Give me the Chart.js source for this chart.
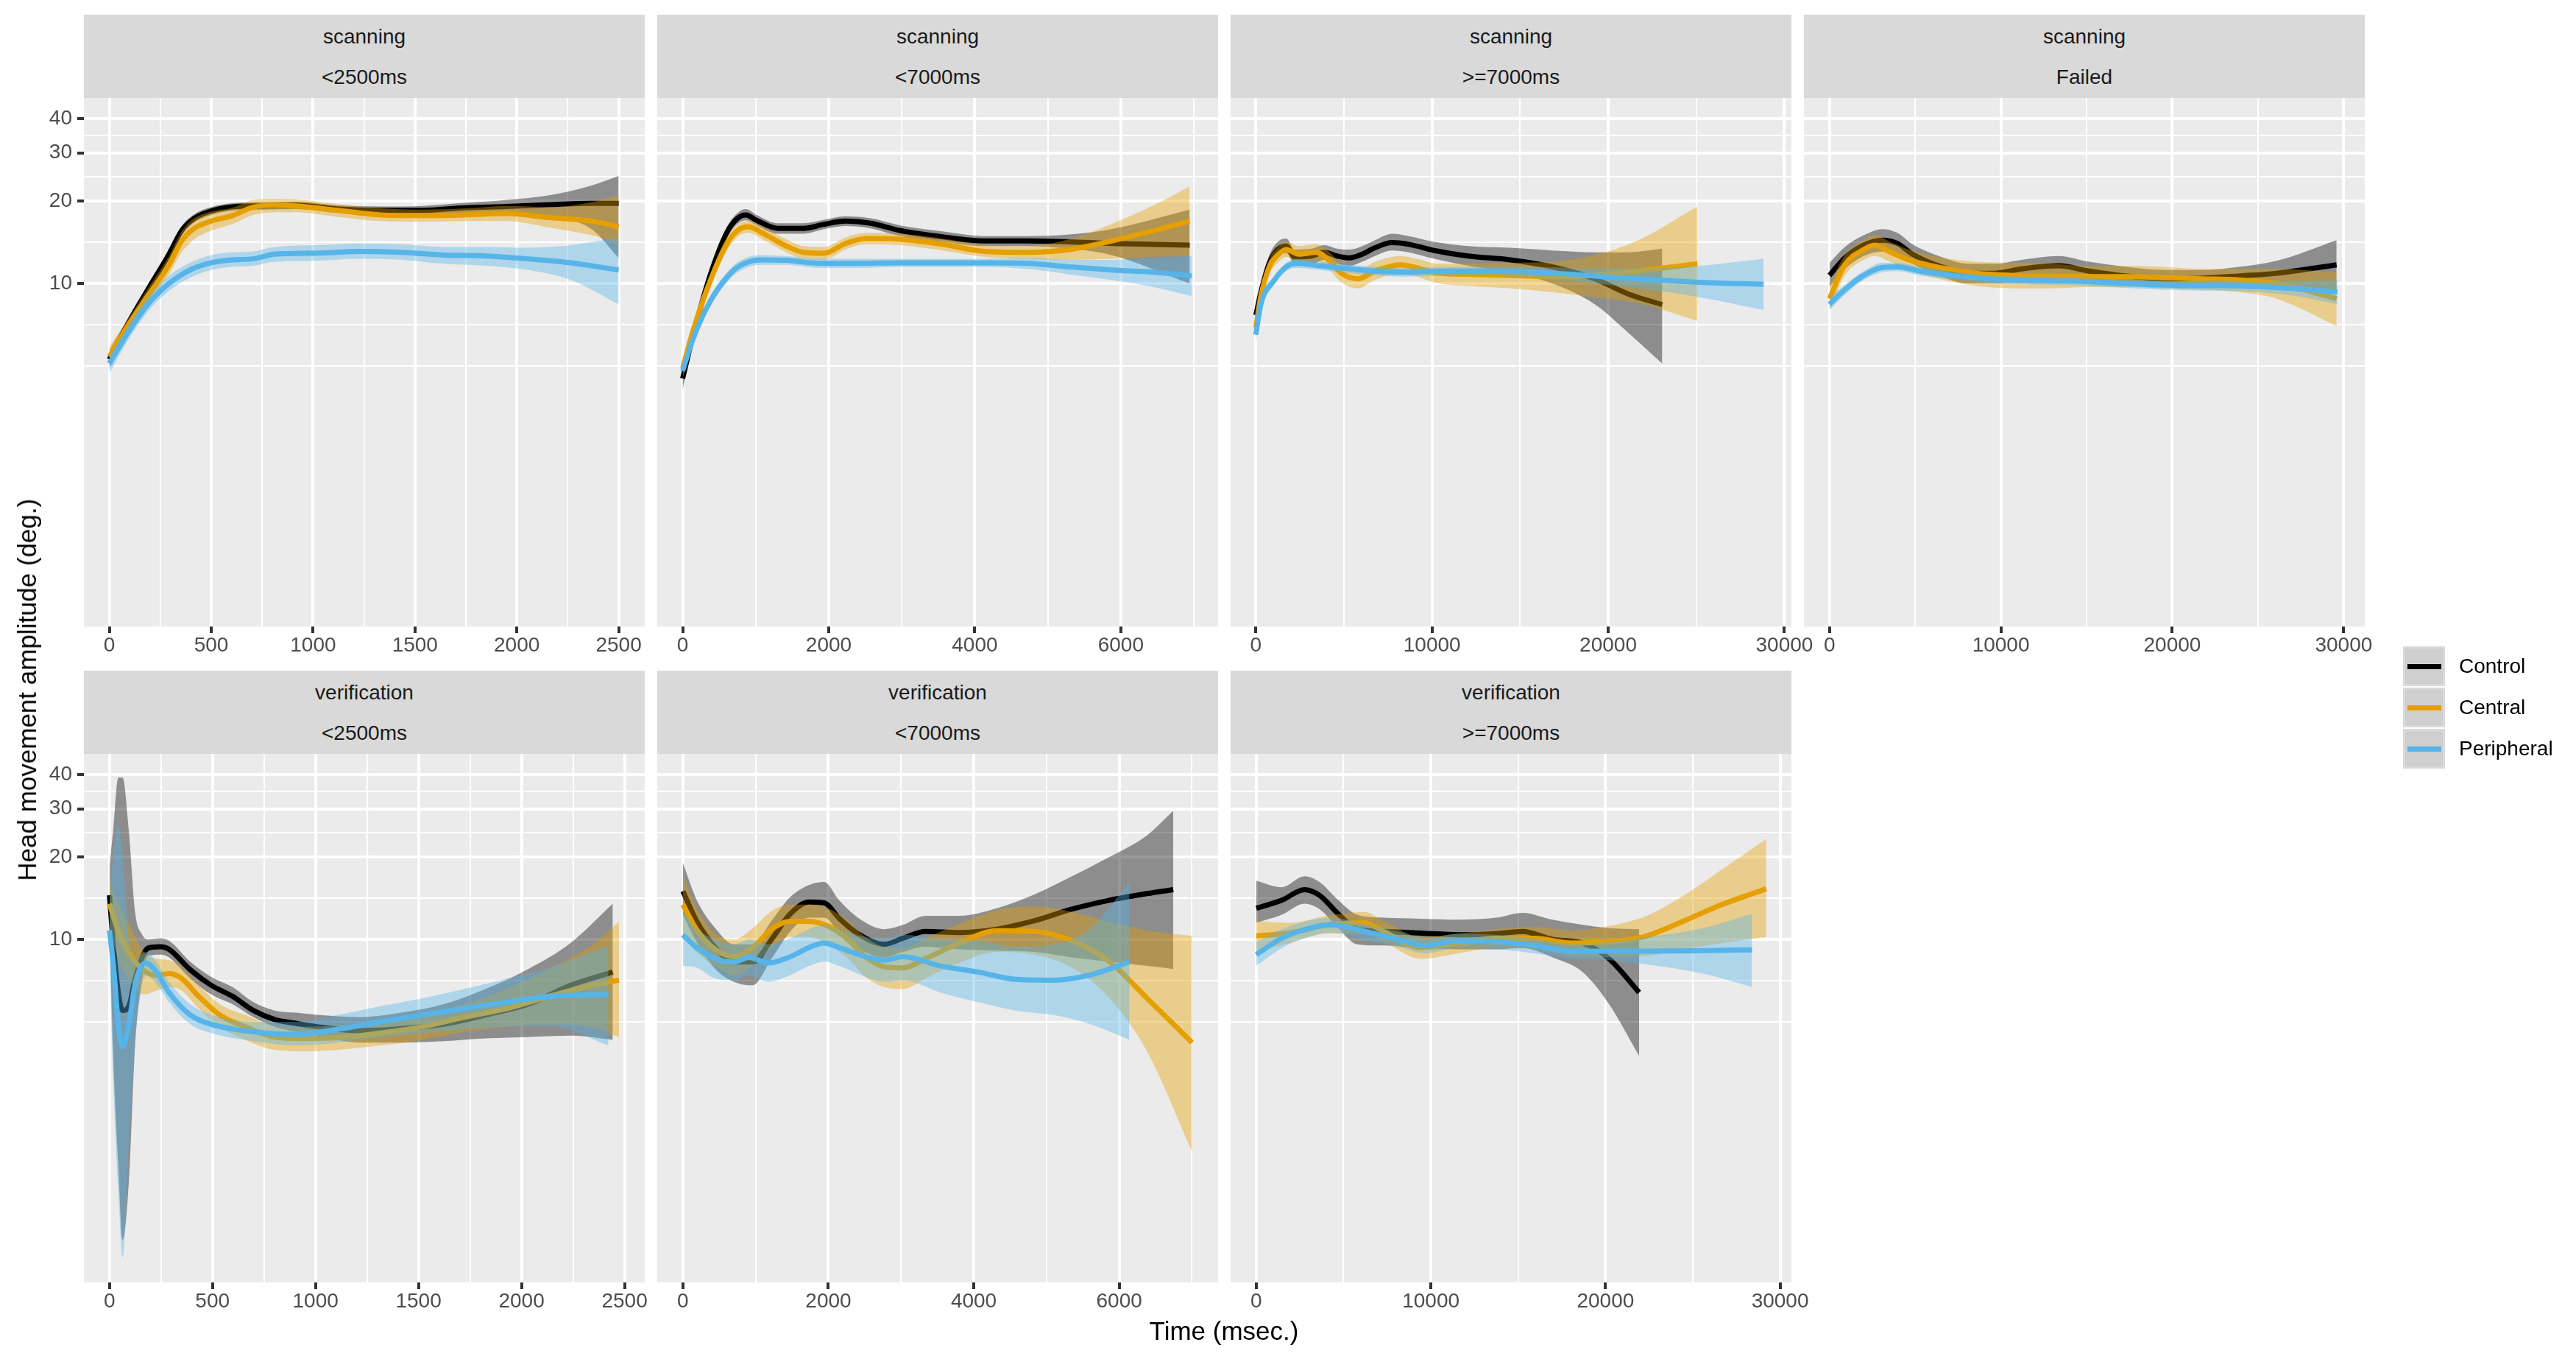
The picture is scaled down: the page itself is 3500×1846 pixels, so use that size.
<!DOCTYPE html>
<html><head><meta charset="utf-8">
<script src="https://cdn.jsdelivr.net/npm/chart.js@4.4.1/dist/chart.umd.min.js"></script>
<style>
html,body{margin:0;padding:0;background:#fff;}
#root{position:relative;width:3500px;height:1846px;overflow:hidden;background:#fff;font-family:"Liberation Sans",Arial,Helvetica,sans-serif;}
.strip{position:absolute;background:#D9D9D9;color:#1A1A1A;font-size:28px;}
.strip div{position:absolute;left:0;right:0;text-align:center;line-height:28px;white-space:nowrap;}
.cw{position:absolute;}
.lab{position:absolute;white-space:nowrap;color:#000;}
</style></head>
<body><div id="root"></div>
<script>
// ---------------- data ----------------
const GROUPS = ['Control','Central','Peripheral'];
const Y_LABELS = [10,20,30,40];
const Y_MINOR = [5,7.071,14.142,24.495,34.641];
const X_MAJ_2500 = [0,500,1000,1500,2000,2500];
const X_MIN_2500 = [250,750,1250,1750,2250];
const X_MAJ_7000 = [0,2000,4000,6000];
const X_MIN_7000 = [1000,3000,5000,7000];
const X_MAJ_30000 = [0,10000,20000,30000];
const X_MIN_30000 = [5000,15000,25000];

// scanning <2500ms
const U1_t_ctrl = [0,85,189,293,355,417,500,624,749,915,1122,1330,1537,1745,1952,2160,2367,2500];
const U1_ctrl    = [5.28,7.0,9.5,12.8,15.6,17.3,18.4,19.1,19.2,19.3,18.7,18.5,18.5,18.9,19.1,19.4,19.6,19.6];
const U1_ctrl_lo = [4.9,6.7,9.1,12.3,15.0,16.7,17.8,18.5,18.6,18.7,18.1,17.9,17.9,18.1,18.0,17.6,15.8,12.4];
const U1_ctrl_hi = [5.7,7.3,9.9,13.3,16.2,17.9,19.0,19.7,19.8,19.9,19.3,19.1,19.2,19.7,20.2,21.0,22.8,24.7];
const U1_t_cen = [0,85,189,293,355,417,500,604,707,811,915,1122,1330,1537,1745,1952,2160,2367,2500];
const U1_cen    = [5.4,6.9,9.0,11.7,14.3,15.9,16.9,17.7,19.0,19.3,19.2,18.5,17.8,17.7,17.8,18.0,17.4,16.9,16.1];
const U1_cen_lo = [5.0,6.5,8.4,10.8,13.0,14.5,15.6,16.5,17.8,18.2,18.2,17.5,16.9,16.8,16.9,16.9,16.0,15.0,14.0];
const U1_cen_hi = [5.9,7.3,9.6,12.6,15.5,17.3,18.3,18.9,20.2,20.4,20.3,19.5,18.8,18.6,18.8,19.2,19.0,19.8,21.0];
const U1_t_per = [0,85,189,293,396,500,604,707,811,1019,1226,1434,1641,1849,2056,2264,2500];
const U1_per    = [5.1,6.5,8.4,10.0,11.2,11.9,12.2,12.3,12.8,12.9,13.1,13.0,12.7,12.6,12.3,11.9,11.2];
const U1_per_lo = [4.7,6.1,7.9,9.4,10.5,11.2,11.5,11.6,12.0,12.1,12.3,12.2,11.8,11.6,11.2,10.3,8.4];
const U1_per_hi = [5.4,6.9,9.0,10.7,11.9,12.7,13.0,13.1,13.6,13.8,14.0,13.9,13.6,13.6,13.5,13.8,14.7];

// scanning <7000ms
const U2_t_ctrl = [0,145,376,608,752,868,1013,1302,1649,1938,2228,2575,2980,3558,4137,4716,5294,5873,6943];
const U2_ctrl    = [4.5,6.5,10.7,15.4,17.3,17.8,17.0,15.9,15.9,16.45,16.9,16.6,15.6,14.8,14.3,14.3,14.2,14.0,13.8];
const U2_ctrl_lo = [4.1,6.1,10.2,14.7,16.5,17.0,16.3,15.2,15.2,15.8,16.2,15.9,14.9,14.2,13.7,13.7,13.4,12.7,10.0];
const U2_ctrl_hi = [4.9,6.9,11.2,16.1,18.1,18.7,17.8,16.6,16.6,17.1,17.6,17.3,16.3,15.5,14.9,14.9,15.1,15.8,18.6];
const U2_t_cen = [0,145,376,608,752,897,1128,1418,1649,1938,2228,2517,2980,3558,4137,4716,5294,5873,6451,6943];
const U2_cen    = [4.9,6.76,10.2,14.0,15.6,16.1,15.1,13.7,13.0,12.9,14.0,14.6,14.5,13.9,13.1,13.0,13.3,14.3,15.6,16.9];
const U2_cen_lo = [4.6,6.3,9.6,13.2,14.8,15.3,14.3,13.0,12.3,12.2,13.3,13.9,13.8,13.2,12.5,12.3,12.2,12.3,12.5,12.6];
const U2_cen_hi = [5.3,7.2,10.8,14.8,16.4,16.9,15.9,14.5,13.7,13.6,14.7,15.3,15.2,14.6,13.8,13.7,14.5,16.5,19.3,22.6];
const U2_t_per = [0,145,376,608,781,1070,1418,1880,2401,2980,3558,4137,4716,5294,5873,6451,6972];
const U2_per    = [4.8,6.3,8.6,10.55,11.6,12.2,12.15,11.85,11.85,11.9,11.9,11.9,11.85,11.5,11.2,11.0,10.65];
const U2_per_lo = [4.5,6.0,8.2,10.1,11.1,11.7,11.7,11.4,11.4,11.5,11.5,11.5,11.3,10.8,10.3,9.7,9.0];
const U2_per_hi = [5.1,6.6,9.0,11.0,12.1,12.7,12.6,12.3,12.3,12.3,12.3,12.3,12.4,12.2,12.2,12.4,12.6];

// scanning >=7000ms
const U3_t_ctrl = [0,288,767,1247,1727,2206,3165,3885,4604,5323,6043,6762,7721,8680,10120,12038,14436,16834,19232,21150,23068];
const U3_ctrl    = [7.66,9.3,11.9,13.3,13.7,12.5,12.6,13.0,12.6,12.4,12.8,13.5,14.1,13.9,13.2,12.6,12.2,11.5,10.4,9.15,8.37];
const U3_ctrl_lo = [7.0,8.8,11.2,12.5,12.9,11.8,11.8,12.2,11.8,11.6,12.0,12.6,13.2,13.0,12.3,11.6,11.0,10.0,8.4,6.6,5.1];
const U3_ctrl_hi = [8.4,9.9,12.7,14.2,14.6,13.3,13.4,13.8,13.4,13.3,13.7,14.4,15.2,14.9,14.2,13.7,13.5,13.2,13.0,13.0,13.4];
const U3_t_cen = [0,288,767,1247,1727,2446,3405,4125,4844,5803,6762,8201,9160,10359,12038,14436,16834,19232,21630,25059];
const U3_cen    = [6.9,9.0,11.5,12.7,13.3,12.8,13.0,12.2,10.9,10.4,11.1,11.7,11.4,10.9,10.8,10.7,10.6,10.7,11.1,11.8];
const U3_cen_lo = [6.3,8.4,10.8,11.9,12.5,12.0,12.1,11.3,10.1,9.6,10.3,10.9,10.6,10.0,9.8,9.6,9.3,8.9,8.5,7.3];
const U3_cen_hi = [7.6,9.7,12.3,13.6,14.2,13.7,13.9,13.1,11.8,11.2,12.0,12.6,12.3,11.8,11.8,11.9,12.0,12.7,14.3,19.1];
const U3_t_per = [0,288,1007,1727,2326,3645,6043,8441,10839,13237,15635,18033,20431,22830,25227,28824];
const U3_per    = [6.5,8.4,10.2,11.5,11.85,11.6,11.2,11.0,11.1,11.1,11.0,10.8,10.5,10.3,10.1,9.93];
const U3_per_lo = [6.0,8.0,9.8,11.1,11.4,11.2,10.8,10.6,10.7,10.7,10.5,10.2,9.8,9.4,8.9,8.0];
const U3_per_hi = [7.0,8.9,10.6,11.9,12.3,12.0,11.6,11.4,11.5,11.5,11.5,11.4,11.3,11.4,11.6,12.3];

// scanning Failed
const U4_t_ctrl = [0,898,1993,3088,3964,4840,6373,8125,9658,11191,13381,15133,17323,19513,21703,23893,26083,29587];
const U4_ctrl    = [10.7,12.4,13.8,14.4,14.0,12.8,11.6,10.9,10.9,11.3,11.6,11.1,10.65,10.4,10.45,10.65,10.9,11.7];
const U4_ctrl_lo = [9.7,11.3,12.6,13.1,12.8,11.8,10.7,10.0,10.0,10.4,10.7,10.3,9.9,9.7,9.8,9.9,9.8,9.4];
const U4_ctrl_hi = [11.9,13.6,15.0,15.8,15.3,13.9,12.6,11.8,11.8,12.2,12.6,12.0,11.5,11.2,11.2,11.5,12.1,14.4];
const U4_t_cen = [0,898,1993,2650,3526,4621,6373,8563,10753,12943,15133,17323,19513,21703,23893,26083,29587];
const U4_cen    = [8.8,11.7,13.3,13.8,13.05,12.2,11.45,10.9,10.7,10.6,10.6,10.6,10.5,10.4,10.3,10.0,8.8];
const U4_cen_lo = [7.9,10.7,12.2,12.6,12.0,11.2,10.4,9.8,9.6,9.6,9.7,9.7,9.6,9.5,9.3,8.8,7.0];
const U4_cen_hi = [9.8,12.7,14.4,15.0,14.2,13.3,12.5,12.0,11.9,11.8,11.6,11.6,11.5,11.3,11.3,11.3,11.0];
const U4_t_per = [0,898,1993,3088,3964,5278,7468,9658,11848,14038,16228,18418,20608,22798,24988,27178,29631];
const U4_per    = [8.4,9.5,10.7,11.45,11.5,11.1,10.65,10.35,10.25,10.2,10.07,9.93,9.82,9.82,9.75,9.58,9.31];
const U4_per_lo = [8.0,9.1,10.3,11.0,11.1,10.7,10.3,10.0,9.9,9.85,9.7,9.55,9.45,9.4,9.3,9.0,8.4];
const U4_per_hi = [8.9,9.9,11.1,11.9,11.9,11.5,11.0,10.7,10.6,10.55,10.4,10.3,10.2,10.25,10.2,10.2,10.3];

// verification <2500ms
const L1_t_ctrl = [0,18,43,64,94,125,156,187,248,289,392,494,597,699,802,904,1007,1212,1417,1622,1827,2033,2238,2443];
const L1_ctrl    = [14.5,9.7,6.4,5.5,5.7,7.2,8.5,9.3,9.4,9.2,7.75,6.8,6.2,5.5,5.1,4.94,4.8,4.64,4.72,4.9,5.3,5.8,6.8,7.6];
const L1_ctrl_lo = [11.5,3.8,1.5,0.8,1.3,4.2,6.9,8.7,8.8,8.6,7.2,6.3,5.8,5.2,4.8,4.6,4.45,4.2,4.2,4.25,4.35,4.4,4.45,4.3];
const L1_ctrl_hi = [18.5,25,39,39,25,12.5,10.5,10.0,10.1,9.9,8.3,7.3,6.7,5.9,5.5,5.4,5.3,5.2,5.4,5.8,6.6,7.8,9.7,13.5];
const L1_t_cen = [0,43,105,166,228,289,351,433,535,658,802,945,1110,1315,1520,1725,1930,2135,2340,2473];
const L1_cen    = [13.5,10.7,8.7,7.7,7.4,7.5,7.2,6.2,5.3,4.8,4.4,4.35,4.38,4.55,4.8,5.2,5.6,6.2,6.8,7.1];
const L1_cen_lo = [11.0,8.5,7.0,6.3,6.5,6.7,6.5,5.6,4.8,4.3,3.95,3.9,3.95,4.1,4.3,4.6,4.8,4.9,4.8,4.4];
const L1_cen_hi = [16.0,13.5,11.0,9.0,8.5,8.4,7.9,6.8,5.8,5.3,4.85,4.8,4.85,5.0,5.3,5.8,6.6,7.8,9.5,11.6];
const L1_t_per = [0,23,43,64,94,125,176,228,289,392,494,699,904,1110,1315,1520,1725,1930,2135,2422];
const L1_per    = [10.8,7.5,4.9,4.06,4.9,6.9,8.2,7.6,6.4,5.3,4.9,4.6,4.5,4.7,5.0,5.3,5.6,5.9,6.2,6.3];
const L1_per_lo = [8.5,2.5,1.2,0.69,1.75,4.2,7.4,6.9,5.9,4.9,4.55,4.25,4.1,4.2,4.4,4.55,4.7,4.8,4.85,4.1];
const L1_per_hi = [13.5,22,26,20,10,8.5,9.0,8.3,7.0,5.8,5.3,5.0,5.0,5.3,5.7,6.1,6.6,7.2,7.9,9.5];

// verification <7000ms
const L2_t_ctrl = [0,186,444,702,960,1219,1477,1735,1942,2148,2406,2768,3026,3336,3801,4317,4834,5350,5866,6383,6744];
const L2_ctrl    = [15.0,11.7,9.34,8.27,8.27,10.0,12.4,13.7,13.6,11.95,10.5,9.6,10.1,10.7,10.6,10.9,11.7,12.9,13.9,14.7,15.2];
const L2_ctrl_lo = [12.3,9.8,7.8,7.0,6.8,8.5,10.7,12.0,12.0,10.6,9.3,8.6,9.0,9.4,9.2,9.1,9.0,8.6,8.3,8.0,7.8];
const L2_ctrl_hi = [19.0,14.0,11.0,9.6,9.6,11.7,14.3,15.8,16.2,13.9,12.0,10.9,11.3,12.2,12.2,13.0,14.6,17.0,20.0,24.0,29.5];
const L2_t_cen = [0,186,444,702,960,1219,1477,1735,1993,2252,2510,2768,3026,3336,3801,4317,4834,5350,5866,6383,7002];
const L2_cen    = [13.4,10.9,9.2,8.65,9.34,10.9,11.65,11.65,11.2,10.1,8.65,7.95,7.87,8.5,9.7,10.75,10.7,9.9,8.3,6.1,4.2];
const L2_cen_lo = [10.4,9.0,8.0,7.4,8.0,9.3,10.2,10.2,9.6,8.6,7.3,6.7,6.6,7.2,8.2,9.0,8.8,7.9,6.1,3.9,1.68];
const L2_cen_hi = [17.0,13.0,10.5,10.0,11.0,12.7,13.4,13.4,13.0,11.8,10.2,9.4,9.3,10.1,11.4,12.8,13.2,12.6,11.6,10.8,10.3];
const L2_t_per = [0,186,444,702,909,1167,1477,1735,1942,2148,2510,2768,3026,3543,4059,4575,5092,5608,6140];
const L2_per    = [10.4,9.34,8.5,8.27,8.6,8.2,8.65,9.34,9.7,9.34,8.65,8.4,8.65,8.0,7.6,7.15,7.1,7.43,8.27];
const L2_per_lo = [8.0,7.9,7.2,7.1,7.4,7.0,7.4,8.0,8.3,8.0,7.3,7.0,7.1,6.4,5.9,5.5,5.3,4.9,4.3];
const L2_per_hi = [12.8,11.0,10.0,9.6,10.0,9.6,10.1,10.9,11.3,10.9,10.2,10.0,10.4,10.0,9.9,9.4,9.6,11.0,16.2];

// verification >=7000ms
const L3_t_ctrl = [0,1465,2757,3619,4696,5773,7281,9435,11589,13743,15250,16973,18696,20205,21928];
const L3_ctrl    = [13.0,13.9,15.2,14.5,12.4,10.9,10.7,10.55,10.4,10.5,10.7,10.0,9.7,8.5,6.4];
const L3_ctrl_lo = [11.5,12.3,13.5,12.9,11.0,9.6,9.5,9.3,9.2,9.2,9.3,8.6,7.6,5.8,3.75];
const L3_ctrl_hi = [16.4,15.5,17.0,16.2,13.9,12.3,12.0,11.9,11.8,12.0,12.5,11.8,11.3,11.0,10.9];
const L3_t_cen = [0,1895,4049,6203,7281,9435,11589,13743,15897,18051,20205,22359,24513,26667,29208];
const L3_cen    = [10.3,10.55,11.3,11.5,10.7,9.34,9.7,10.1,10.1,9.7,9.8,10.3,11.7,13.4,15.3];
const L3_cen_lo = [9.0,9.7,10.5,10.5,9.8,8.5,8.9,9.3,9.2,8.7,8.6,8.7,9.2,9.7,10.2];
const L3_cen_hi = [11.7,11.5,12.2,12.6,11.7,10.2,10.5,10.9,11.1,10.8,11.2,12.2,14.5,18.0,23.3];
const L3_t_per = [0,1465,2973,4265,6203,8357,9650,11589,13743,15897,18051,20205,22359,25590,28390];
const L3_per    = [8.8,10.1,10.95,11.3,10.7,9.9,9.5,9.9,9.8,9.5,9.06,9.06,9.06,9.1,9.16];
const L3_per_lo = [8.0,9.3,10.2,10.6,10.0,9.3,8.9,9.3,9.2,8.9,8.5,8.4,8.1,7.5,6.7];
const L3_per_hi = [9.8,10.9,11.7,12.0,11.4,10.6,10.1,10.5,10.4,10.1,9.65,9.8,10.2,11.0,12.4];

// ---------------- layout & style ----------------
const FONT = '"Liberation Sans", Arial, Helvetica, sans-serif';
const COLORS = ['#000000','#E69F00','#56B4E9'];
const FILLS = ['rgba(0,0,0,0.4)','rgba(230,159,0,0.4)','rgba(86,180,233,0.4)'];
const COL_LEFT = [114, 893, 1672, 2451];
const ROW_TOP = [133, 1024];
const STRIP_TOP = [20, 911];
const STRIP_H = 113, PANEL_W = 762, PANEL_H = 718, XAXIS_H = 50, RIGHT_PAD = 70;
const Y_MIN = 0.559, Y_MAX = 47.6;

const PANELS = [
  {row:0,col:0,s1:'scanning',s2:'<2500ms',xmin:-125,xmax:2628,maj:X_MAJ_2500,min:X_MIN_2500,
   t:[U1_t_ctrl,U1_t_cen,U1_t_per],m:[U1_ctrl,U1_cen,U1_per],lo:[U1_ctrl_lo,U1_cen_lo,U1_per_lo],hi:[U1_ctrl_hi,U1_cen_hi,U1_per_hi]},
  {row:0,col:1,s1:'scanning',s2:'<7000ms',xmin:-348,xmax:7332,maj:X_MAJ_7000,min:X_MIN_7000,
   t:[U2_t_ctrl,U2_t_cen,U2_t_per],m:[U2_ctrl,U2_cen,U2_per],lo:[U2_ctrl_lo,U2_cen_lo,U2_per_lo],hi:[U2_ctrl_hi,U2_cen_hi,U2_per_hi]},
  {row:0,col:2,s1:'scanning',s2:'>=7000ms',xmin:-1433,xmax:30400,maj:X_MAJ_30000,min:X_MIN_30000,
   t:[U3_t_ctrl,U3_t_cen,U3_t_per],m:[U3_ctrl,U3_cen,U3_per],lo:[U3_ctrl_lo,U3_cen_lo,U3_per_lo],hi:[U3_ctrl_hi,U3_cen_hi,U3_per_hi]},
  {row:0,col:3,s1:'scanning',s2:'Failed',xmin:-1490,xmax:31230,maj:X_MAJ_30000,min:X_MIN_30000,
   t:[U4_t_ctrl,U4_t_cen,U4_t_per],m:[U4_ctrl,U4_cen,U4_per],lo:[U4_ctrl_lo,U4_cen_lo,U4_per_lo],hi:[U4_ctrl_hi,U4_cen_hi,U4_per_hi]},
  {row:1,col:0,s1:'verification',s2:'<2500ms',xmin:-124,xmax:2598,maj:X_MAJ_2500,min:X_MIN_2500,
   t:[L1_t_ctrl,L1_t_cen,L1_t_per],m:[L1_ctrl,L1_cen,L1_per],lo:[L1_ctrl_lo,L1_cen_lo,L1_per_lo],hi:[L1_ctrl_hi,L1_cen_hi,L1_per_hi]},
  {row:1,col:1,s1:'verification',s2:'<7000ms',xmin:-353,xmax:7360,maj:X_MAJ_7000,min:X_MIN_7000,
   t:[L2_t_ctrl,L2_t_cen,L2_t_per],m:[L2_ctrl,L2_cen,L2_per],lo:[L2_ctrl_lo,L2_cen_lo,L2_per_lo],hi:[L2_ctrl_hi,L2_cen_hi,L2_per_hi]},
  {row:1,col:2,s1:'verification',s2:'>=7000ms',xmin:-1470,xmax:30650,maj:X_MAJ_30000,min:X_MIN_30000,
   t:[L3_t_ctrl,L3_t_cen,L3_t_per],m:[L3_ctrl,L3_cen,L3_per],lo:[L3_ctrl_lo,L3_cen_lo,L3_per_lo],hi:[L3_ctrl_hi,L3_cen_hi,L3_per_hi]}
];

const root = document.getElementById('root');

const bgPlugin = {
  id: 'panelbg',
  beforeDraw(chart) {
    const {ctx, chartArea: a} = chart;
    ctx.save();
    ctx.fillStyle = '#EBEBEB';
    ctx.fillRect(a.left, a.top, a.right - a.left, a.bottom - a.top);
    ctx.restore();
  }
};

function addStrip(p) {
  const s = document.createElement('div');
  s.className = 'strip';
  s.style.left = COL_LEFT[p.col] + 'px';
  s.style.top = STRIP_TOP[p.row] + 'px';
  s.style.width = PANEL_W + 'px';
  s.style.height = STRIP_H + 'px';
  const a = document.createElement('div'); a.style.top = '16px'; a.textContent = p.s1;
  const b = document.createElement('div'); b.style.top = '71px'; b.textContent = p.s2;
  s.appendChild(a); s.appendChild(b);
  root.appendChild(s);
}

function makeChart(p) {
  const first = p.col === 0;
  const axisW = first ? COL_LEFT[0] : 0;
  const left = first ? 0 : COL_LEFT[p.col];
  const w = axisW + PANEL_W + RIGHT_PAD;
  const h = PANEL_H + XAXIS_H;
  const wrap = document.createElement('div');
  wrap.className = 'cw';
  Object.assign(wrap.style, {left: left + 'px', top: ROW_TOP[p.row] + 'px', width: w + 'px', height: h + 'px'});
  const cv = document.createElement('canvas');
  cv.width = w; cv.height = h;
  cv.style.width = w + 'px'; cv.style.height = h + 'px';
  wrap.appendChild(cv);
  root.appendChild(wrap);

  const datasets = [];
  for (let g = 0; g < 3; g++) {
    const base = (2 - g) * 3;
    const idxLo = datasets.length;
    const pts = arr => p.t[g].map((x, i) => ({x: x, y: arr[i]}));
    const common = {pointRadius: 0, pointHoverRadius: 0, cubicInterpolationMode: 'monotone'};
    datasets.push(Object.assign({label: GROUPS[g] + ' lower', data: pts(p.lo[g]), borderWidth: 0,
      borderColor: 'rgba(0,0,0,0)', fill: false, order: base + 2}, common));
    datasets.push(Object.assign({label: GROUPS[g] + ' upper', data: pts(p.hi[g]), borderWidth: 0,
      borderColor: 'rgba(0,0,0,0)', backgroundColor: FILLS[g], fill: {target: idxLo}, order: base + 1}, common));
    datasets.push(Object.assign({label: GROUPS[g], data: pts(p.m[g]), borderWidth: 7,
      borderColor: COLORS[g], fill: false, order: base, borderCapStyle: 'butt', borderJoinStyle: 'round'}, common));
  }

  const xMajSet = new Set(p.maj);
  const xAll = p.maj.concat(p.min).filter(v => v >= p.xmin && v <= p.xmax).sort((a, b) => a - b);
  const yMajSet = new Set(Y_LABELS);
  const yAll = Y_LABELS.concat(Y_MINOR).sort((a, b) => a - b);
  const isMaj = (set, ctx) => ctx && ctx.tick && set.has(ctx.tick.value);

  new Chart(cv, {
    type: 'line',
    data: {datasets: datasets},
    plugins: [bgPlugin],
    options: {
      responsive: false, animation: false, events: [], devicePixelRatio: 1,
      layout: {padding: {left: 0, top: 0, bottom: 0, right: RIGHT_PAD}},
      plugins: {legend: {display: false}, title: {display: false}, tooltip: {enabled: false},
        filler: {propagate: false, drawTime: 'beforeDatasetDraw'}},
      scales: {
        x: {
          type: 'linear', min: p.xmin, max: p.xmax, bounds: 'data',
          afterBuildTicks: s => { s.ticks = xAll.map(v => ({value: v})); },
          afterFit: s => { s.height = XAXIS_H; s.paddingLeft = 0; s.paddingRight = 0; s.paddingTop = 0; s.paddingBottom = 0; },
          ticks: {autoSkip: false, maxRotation: 0, minRotation: 0, color: '#4D4D4D', padding: 0,
            font: {family: FONT, size: 28}, callback: v => xMajSet.has(v) ? String(v) : ''},
          grid: {color: '#FFFFFF', lineWidth: ctx => isMaj(xMajSet, ctx) ? 4 : 2, drawTicks: true, tickLength: 9,
            tickColor: ctx => isMaj(xMajSet, ctx) ? '#333333' : 'rgba(0,0,0,0)', tickWidth: ctx => isMaj(xMajSet, ctx) ? 4 : 1},
          border: {display: false}
        },
        y: {
          type: 'logarithmic', min: Y_MIN, max: Y_MAX, bounds: 'data',
          afterBuildTicks: s => { s.ticks = yAll.map(v => ({value: v})); },
          afterFit: s => { s.width = axisW; s.paddingTop = 0; s.paddingBottom = 0; s.paddingLeft = 0; s.paddingRight = 0; },
          ticks: {display: first, autoSkip: false, color: '#4D4D4D', padding: 7,
            font: {family: FONT, size: 28}, callback: v => yMajSet.has(v) ? String(v) : ''},
          grid: {color: '#FFFFFF', lineWidth: ctx => isMaj(yMajSet, ctx) ? 4 : 2, drawTicks: first, tickLength: 9,
            tickColor: ctx => isMaj(yMajSet, ctx) ? '#333333' : 'rgba(0,0,0,0)', tickWidth: ctx => isMaj(yMajSet, ctx) ? 4 : 1},
          border: {display: false}
        }
      }
    }
  });
}

PANELS.forEach(p => { addStrip(p); makeChart(p); });

// axis titles
const yt = document.createElement('div');
yt.className = 'lab';
yt.textContent = 'Head movement amplitude (deg.)';
Object.assign(yt.style, {left: '37px', top: '937px', fontSize: '35px', transform: 'translate(-50%,-50%) rotate(-90deg)'});
root.appendChild(yt);
const xt = document.createElement('div');
xt.className = 'lab';
xt.textContent = 'Time (msec.)';
Object.assign(xt.style, {left: '1663px', top: '1808px', fontSize: '35px', transform: 'translate(-50%,-50%)'});
root.appendChild(xt);

// legend
const KEY_LEFT = 3265, KEY_TOP = 878, KEY_W = 57, KEY_H = 54, KEY_STEP = 56;
GROUPS.forEach((g, i) => {
  const top = KEY_TOP + i * KEY_STEP;
  const k = document.createElement('div');
  Object.assign(k.style, {position: 'absolute', left: KEY_LEFT + 'px', top: top + 'px', width: KEY_W + 'px', height: KEY_H + 'px', background: '#D9D9D9'});
  const inner = document.createElement('div');
  Object.assign(inner.style, {position: 'absolute', left: '3px', top: '3px', right: '3px', bottom: '3px', background: '#CFCFCF'});
  k.appendChild(inner);
  const ln = document.createElement('div');
  Object.assign(ln.style, {position: 'absolute', left: '6px', width: '46px', top: (KEY_H / 2 - 3.5) + 'px', height: '7px', background: COLORS[i]});
  k.appendChild(ln);
  root.appendChild(k);
  const t = document.createElement('div');
  t.className = 'lab';
  t.textContent = g;
  Object.assign(t.style, {left: '3341px', top: (top + KEY_H / 2) + 'px', fontSize: '28px', transform: 'translateY(-50%)', lineHeight: '28px'});
  root.appendChild(t);
});
</script>
</body></html>
